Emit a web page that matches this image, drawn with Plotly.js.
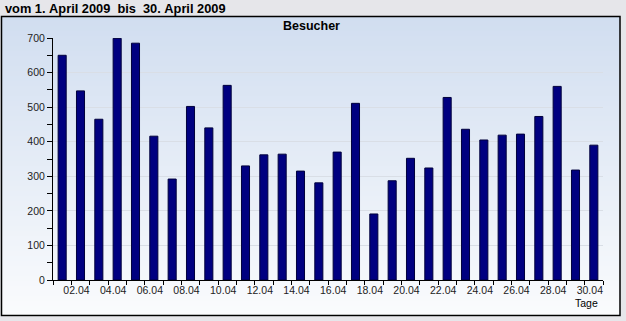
<!DOCTYPE html>
<html>
<head>
<meta charset="utf-8">
<script src="https://cdn.plot.ly/plotly-3.0.1.min.js"></script>
<style>html,body{margin:0;padding:0;background:#e6e6ea;}#chart{width:626px;height:321px;}</style>
</head>
<body>
<div id="chart"></div>
<script>
const days = [1,2,3,4,5,6,7,8,9,10,11,12,13,14,15,16,17,18,19,20,21,22,23,24,25,26,27,28,29,30];
const visitors = [650,547,465,699,685,416,292,502,440,563,330,362,364,315,281,370,511,191,287,352,324,528,436,405,419,422,473,560,318,390];
const tickDays = [2,4,6,8,10,12,14,16,18,20,22,24,26,28,30];
const tickLabels = ["02.04","04.04","06.04","08.04","10.04","12.04","14.04","16.04","18.04","20.04","22.04","24.04","26.04","28.04","30.04"];
const chartTitle = "vom 1.\u00a0April\u00a02009\u00a0\u00a0bis\u00a0\u00a030.\u00a0April\u00a02009";
const seriesName = "Besucher";
const xAxisName = "Tage";

const W = 626, H = 321, L = 53, R = 23, T = 38, B = 41;
const pw = W - L - R, ph = H - T - B;
const px = x => (x - L) / pw;
const py = y => (H - B - y) / ph;

const shapes = [];
const panelTop = 16, panelBot = 316, nStrips = 60;
const c0 = [209, 222, 240], c1 = [250, 251, 253];
for (let i = 0; i < nStrips; i++) {
  const t = i / (nStrips - 1);
  const c = c0.map((v, k) => Math.round(v + (c1[k] - v) * t));
  const y0 = panelTop + (panelBot - panelTop) * i / nStrips, y1 = panelTop + (panelBot - panelTop) * (i + 1) / nStrips;
  shapes.push({type:'rect', xref:'paper', yref:'paper', layer:'below',
    x0: px(1), x1: px(620), y0: py(y0), y1: py(y1 + 0.6),
    fillcolor: `rgb(${c[0]},${c[1]},${c[2]})`, line:{width:0}});
}
shapes.push({type:'rect', xref:'paper', yref:'paper', layer:'above',
  x0: px(1.5), x1: px(620), y0: py(16.5), y1: py(315.5),
  fillcolor:'rgba(0,0,0,0)', line:{color:'#000', width:1.5}});

const font = "Liberation Sans, Arial, sans-serif";

Plotly.newPlot('chart', [{
  type:'bar', x: days, y: visitors, width: 0.44,
  marker:{color:'#000080', line:{color:'#00003c', width:1}},
  hoverinfo:'none'
}], {
  width: W, height: H,
  margin:{l:L, r:R, t:T, b:B},
  paper_bgcolor:'#e6e6ea', plot_bgcolor:'rgba(0,0,0,0)',
  showlegend:false,
  title:{text: chartTitle, font:{family:font, size:12.8, color:'#000', weight:'bold'},
    xref:'container', yref:'container', x: 5/W, xanchor:'left', y: 1 - 8.5/H, yanchor:'middle'},
  xaxis:{range:[0.5,30.5], tickmode:'array', tickvals: tickDays, ticktext: tickLabels,
    ticks:'', showgrid:false, zeroline:false, showline:true, linecolor:'#000', linewidth:1,
    ticklabelshift:-4,
    tickfont:{family:font, size:10.5, color:'#222'},
    minor:{tick0:0.5, dtick:1, ticks:'outside', ticklen:4, tickcolor:'#000', showgrid:false}},
  yaxis:{range:[0,700], dtick:100, tick0:0, ticks:'outside', ticklen:5, tickcolor:'#000',
    showgrid:true, gridcolor:'#d9dee6', gridwidth:1, zeroline:false,
    showline:true, linecolor:'#000', linewidth:1,
    tickfont:{family:font, size:10.5, color:'#222'},
    minor:{dtick:50, ticks:'outside', ticklen:5, tickcolor:'#000', showgrid:false}},
  shapes: shapes,
  annotations:[
    {text: seriesName, xref:'paper', yref:'paper', x: px(311), y: py(26), showarrow:false,
     font:{family:font, size:12.5, color:'#000', weight:'bold'}, xanchor:'center', yanchor:'middle'},
    {text: xAxisName, xref:'paper', yref:'paper', x: px(600), y: py(303), showarrow:false,
     font:{family:font, size:10.5, color:'#000'}, xanchor:'right', yanchor:'middle'}
  ]
}, {staticPlot:true});
</script>
</body>
</html>
